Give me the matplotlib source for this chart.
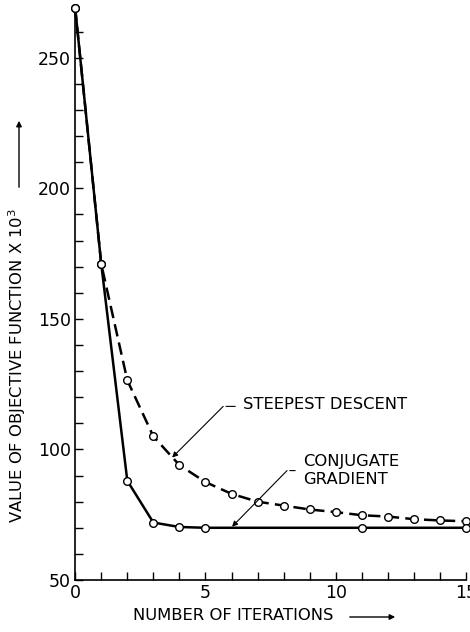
import matplotlib
matplotlib.use("Agg")
import matplotlib.pyplot as plt
from matplotlib.ticker import MultipleLocator

# values
steep_x = [0, 1, 2, 3, 4, 5, 6, 7, 8, 9, 10, 11, 12, 13, 14, 15]
steep_y = [269, 171, 126.5, 105, 94, 87.5, 83, 80, 78.5, 77, 76, 74.8, 74.3, 73.3, 72.8, 72.5]
conj_x = [0, 1, 2, 3, 4, 5, 11, 15]
conj_y = [269, 171, 88, 72, 70.3, 70, 70, 70]

fig = plt.figure(figsize=(4.7, 6.32), dpi=100)
ax = fig.add_axes([0.16, 0.0823, 0.8315, 0.9067])

ax.plot(steep_x, steep_y, color="black", lw=1.8, ls=(0, (5, 2.5)),
        marker="o", ms=5.5, mfc="white", mec="black", mew=1, zorder=3, clip_on=False)
ax.plot(conj_x, conj_y, color="black", lw=1.8,
        marker="o", ms=5.5, mfc="white", mec="black", mew=1, zorder=4, clip_on=False)

ax.set_xlim(0, 15)
ax.set_ylim(50, 269.5)
ax.xaxis.set_minor_locator(MultipleLocator(1))
ax.yaxis.set_minor_locator(MultipleLocator(10))
ax.tick_params(which="both", direction="in", length=6, width=1)
ax.tick_params(axis="both", labelsize=12.5, pad=3)
for s in ["top", "right"]:
    ax.spines[s].set_visible(False)
for s in ["left", "bottom"]:
    ax.spines[s].set_linewidth(1.2)
ax.set_yticks([50, 100, 150, 200, 250])
ax.set_yticklabels(["50", "100", "150", "200", "250"])
ax.set_xticks([0, 5, 10, 15])
ax.set_xticklabels(["0", "5", "10", "15"])

lab = 11.8

# labels
ax.annotate("STEEPEST DESCENT", xy=(6.44, 117.3), fontsize=lab, va="center", ha="left")
ax.annotate("", xy=(5.68, 116.5), xytext=(6.25, 116.5),
            arrowprops=dict(arrowstyle="-", lw=0.8, color="black"))
ax.annotate("", xy=(3.72, 96.9), xytext=(5.68, 116.5),
            arrowprops=dict(arrowstyle="-|>", lw=0.8, color="black", mutation_scale=8,
                            shrinkA=0, shrinkB=0))

ax.annotate("CONJUGATE\nGRADIENT", xy=(8.75, 91.9), fontsize=lab, va="center", ha="left",
            linespacing=1.25)
ax.annotate("", xy=(8.13, 91.9), xytext=(8.55, 91.9),
            arrowprops=dict(arrowstyle="-", lw=0.8, color="black"))
ax.annotate("", xy=(6.02, 70.4), xytext=(8.13, 91.9),
            arrowprops=dict(arrowstyle="-|>", lw=0.8, color="black", mutation_scale=8,
                            shrinkA=0, shrinkB=0))

# axis titles with arrows
fig.text(133 / 470, 1 - 616 / 632, "NUMBER OF ITERATIONS", fontsize=lab, ha="left", va="center")
fig.add_artist(matplotlib.patches.FancyArrowPatch((347 / 470, 1 - 617 / 632), (398 / 470, 1 - 617 / 632),
               transform=fig.transFigure, arrowstyle="-|>", mutation_scale=8, lw=1, color="black"))

fig.text(17 / 470, 1 - 365 / 632, "VALUE OF OBJECTIVE FUNCTION X 10$^3$", fontsize=lab,
         rotation=90, ha="center", va="center")
fig.add_artist(matplotlib.patches.FancyArrowPatch((19 / 470, 1 - 190 / 632), (19 / 470, 1 - 118 / 632),
               transform=fig.transFigure, arrowstyle="-|>", mutation_scale=8, lw=1, color="black"))

fig.savefig("out.png", dpi=100)
